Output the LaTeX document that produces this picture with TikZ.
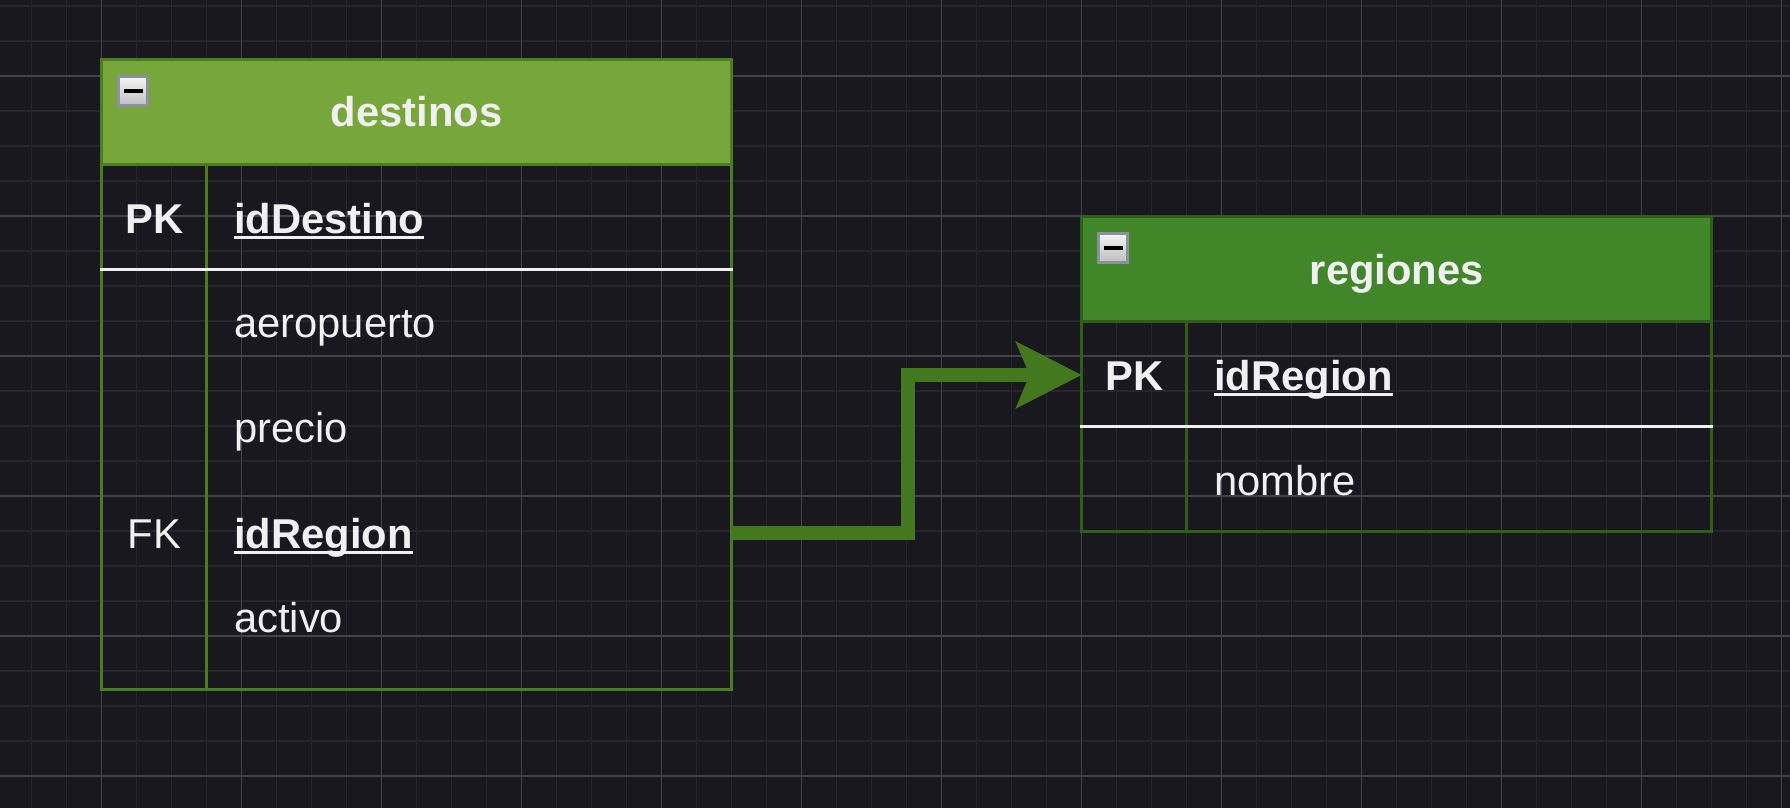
\documentclass[tikz,border=0pt]{standalone}
\usepackage{fontspec}
\setmainfont{Liberation Sans}
\usetikzlibrary{arrows.meta,positioning}

\definecolor{fondo}{HTML}{19181E}
\definecolor{rejillamenor}{HTML}{26252B}
\definecolor{rejillamayor}{HTML}{434248}
\definecolor{verdeclaro}{HTML}{77A63A}
\definecolor{bordeclaro}{HTML}{4A7D22}
\definecolor{verdeoscuro}{HTML}{41872A}
\definecolor{bordeoscuro}{HTML}{2D5F1B}
\definecolor{verdeflecha}{HTML}{44781F}
\definecolor{texto}{HTML}{F0F0F0}
\definecolor{iconoborde}{HTML}{8C91A1}
\definecolor{iconogris}{HTML}{BEBEBE}

\newcommand{\letracampo}{\fontsize{41.7}{50}\selectfont}
\newsavebox\clavebox
\newcommand{\subrayado}[1]{\sbox\clavebox{#1}\rlap{\rule[-5.5pt]{\wd\clavebox}{3pt}}\usebox\clavebox}

\begin{document}
\begin{tikzpicture}[x=1pt,y=-1pt,
    cabecera/.style 2 args={draw=#1,fill=#2,line width=3pt,minimum width=630pt,
      minimum height=105pt,inner sep=0pt,outer sep=0pt,text=texto,
      text height=30pt,text depth=0pt,font=\letracampo\bfseries},
    cuerpo/.style={draw=#1,line width=3pt,minimum width=630pt,inner sep=0pt,outer sep=0pt},
    divisor/.style={draw=#1,line width=3pt},
    separador/.style={draw=texto,line width=3pt},
    icono/.style={draw=iconoborde,line width=3pt,top color=white!96!black,
      bottom color=iconogris,minimum size=29pt,inner sep=0pt},
    clave/.style={text=texto,font=\letracampo\bfseries,inner sep=0pt,text height=30pt,text depth=0pt},
    foranea/.style={text=texto,font=\letracampo,inner sep=0pt,text height=30pt,text depth=0pt},
    campo/.style={foranea,anchor=west},
    flecha/.style={draw=verdeflecha,line width=14pt,-{Stealth[length=65pt,width=65pt,inset=13pt]}}]

  % fondo y rejilla
  \fill[fondo] (0,0) rectangle (1790,808);
  \useasboundingbox (0,0) rectangle (1790,808);
  \foreach \gx in {-3.3,31.7,...,1790}
    \draw[rejillamenor,line width=1.5pt] (\gx,0) -- (\gx,808);
  \foreach \gy in {6,41,...,808}
    \draw[rejillamenor,line width=1.5pt] (0,\gy) -- (1790,\gy);
  \foreach \gx in {-38.3,101.7,...,1790}
    \draw[rejillamayor,line width=1.5pt] (\gx,0) -- (\gx,808);
  \foreach \gy in {-64,76,...,808}
    \draw[rejillamayor,line width=1.5pt] (0,\gy) -- (1790,\gy);

  % tabla destinos
  \node[cabecera={bordeclaro}{verdeclaro},anchor=north west] (dCab) at (101.7,59.4) {destinos};
  \node[cuerpo=bordeclaro,minimum height=525pt,below=0pt of dCab] (dCuerpo) {};
  \node[icono,shift={(31.3,32)}] (dIcono) at (dCab.north west) {\rule{19pt}{4pt}};
  \draw[divisor=bordeclaro] ([xshift=105pt]dCab.south west) -- ([xshift=105pt]dCuerpo.south west);
  \draw[separador] ([xshift=-1.5pt,yshift=-105pt]dCab.south west) -- ([xshift=1.5pt,yshift=-105pt]dCab.south east);

  \node[clave] (dPK) at (154.2,218.3) {PK};
  \node[campo,font=\letracampo\bfseries] (dIdDestino) at (234,218.3) {\subrayado{idDestino}};
  \node[campo] (dAeropuerto) at (234,322.3) {aeropuerto};
  \node[campo] (dPrecio) at (234,427.7) {precio};
  \node[foranea] (dFK) at (154.2,533.3) {FK};
  \node[campo,font=\letracampo\bfseries] (dIdRegion) at (234,533.3) {\subrayado{idRegion}};
  \node[campo] (dActivo) at (234,617.3) {activo};

  % tabla regiones
  \node[cabecera={bordeoscuro}{verdeoscuro},anchor=north west] (rCab) at (1081.7,216.7) {regiones};
  \node[cuerpo=bordeoscuro,minimum height=210pt,below=0pt of rCab] (rCuerpo) {};
  \node[icono,shift={(31.3,31.2)}] (rIcono) at (rCab.north west) {\rule{19pt}{4pt}};
  \draw[divisor=bordeoscuro] ([xshift=105pt]rCab.south west) -- ([xshift=105pt]rCuerpo.south west);
  \draw[separador] ([xshift=-1.5pt,yshift=-105pt]rCab.south west) -- ([xshift=1.5pt,yshift=-105pt]rCab.south east);

  \node[clave] (rPK) at (1134.6,375) {PK};
  \node[campo,font=\letracampo\bfseries] (rIdRegion) at (1214,375) {\subrayado{idRegion}};
  \node[campo] (rNombre) at (1214,480) {nombre};

  % relacion
  \coordinate (codo) at (908,0);
  \draw[flecha] (dCuerpo.east |- dFK) -| (codo |- rPK) -- (rCuerpo.west |- rPK);

\end{tikzpicture}
\end{document}
